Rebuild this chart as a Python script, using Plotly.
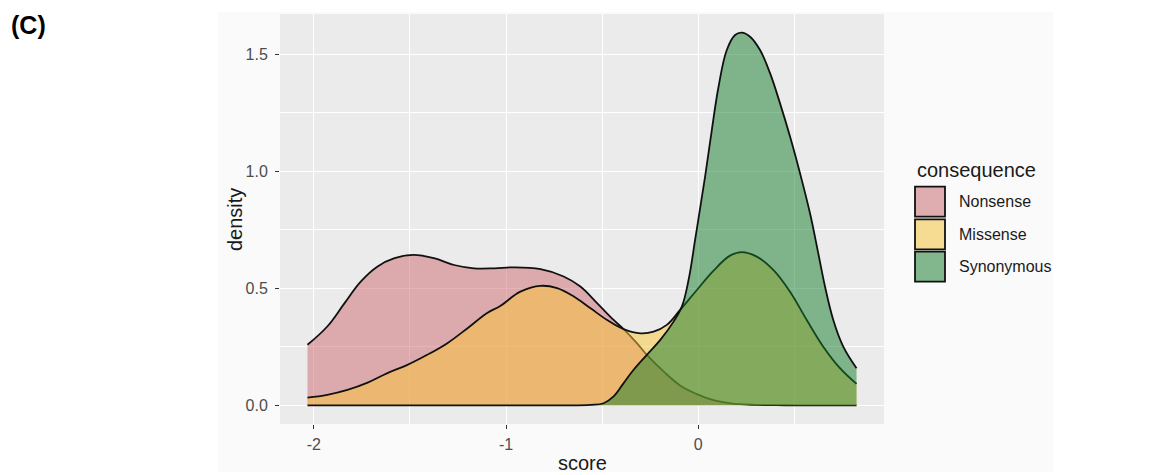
import plotly.graph_objects as go

# ---------------- data ----------------
categories = ["Nonsense", "Missense", "Synonymous"]

nonsense_x = [-2.033, -1.93, -1.84, -1.756, -1.67, -1.58, -1.48, -1.375, -1.27, -1.167,
              -1.06, -0.96, -0.82, -0.70, -0.613, -0.526, -0.44, -0.388, -0.319, -0.267,
              -0.18, -0.094, -0.007, 0.079, 0.17, 0.30, 0.45, 0.60, 0.824]
nonsense_y = [0.259, 0.337, 0.437, 0.529, 0.593, 0.629, 0.643, 0.629, 0.600, 0.586,
              0.586, 0.590, 0.582, 0.551, 0.508, 0.437, 0.365, 0.326, 0.266, 0.216,
              0.145, 0.085, 0.048, 0.022, 0.008, 0.002, 0.0005, 0.0, 0.0]

missense_x = [-2.033, -1.93, -1.825, -1.72, -1.617, -1.513, -1.41, -1.305, -1.20, -1.10,
              -1.03, -0.925, -0.82, -0.734, -0.647, -0.56, -0.474, -0.388, -0.30, -0.232,
              -0.163, -0.094, -0.01, 0.079, 0.166, 0.227, 0.305, 0.391, 0.478, 0.565,
              0.651, 0.738, 0.824]
missense_y = [0.033, 0.045, 0.066, 0.097, 0.138, 0.173, 0.216, 0.266, 0.330, 0.394,
              0.425, 0.486, 0.511, 0.501, 0.465, 0.415, 0.365, 0.326, 0.308, 0.315,
              0.344, 0.408, 0.49, 0.575, 0.640, 0.655, 0.636, 0.579, 0.486, 0.365,
              0.251, 0.159, 0.092]

synonymous_x = [-2.033, -1.5, -1.0, -0.7, -0.56, -0.492, -0.44, -0.388, -0.336, -0.267,
                -0.197, -0.128, -0.085, -0.05, -0.016, 0.002, 0.036, 0.071, 0.106, 0.149,
                0.192, 0.227, 0.270, 0.322, 0.374, 0.426, 0.478, 0.530, 0.582, 0.625,
                0.660, 0.703, 0.755, 0.824]
synonymous_y = [0.0, 0.0, 0.0, 0.0, 0.002, 0.009, 0.038, 0.095, 0.152, 0.216,
                0.280, 0.358, 0.422, 0.536, 0.707, 0.80, 0.978, 1.177, 1.362, 1.519,
                1.583, 1.593, 1.576, 1.519, 1.420, 1.291, 1.149, 0.992, 0.821, 0.650,
                0.508, 0.365, 0.251, 0.159]

x_tick_vals = [-2, -1, 0]
x_tick_text = ["-2", "-1", "0"]
y_tick_vals = [0.0, 0.5, 1.0, 1.5]
y_tick_text = ["0.0", "0.5", "1.0", "1.5"]

# ---------------- styling ----------------
fill_colors = ["rgba(205,105,111,0.5)", "rgba(251,197,53,0.5)", "rgba(19,123,41,0.5)"]
key_colors = ["#dfadb0", "#f6db93", "#82b68d"]
FONT = "Liberation Sans, Arial, Helvetica, sans-serif"

W, H = 1150, 475
PL, PR, PT, PB = 280, 884, 14, 424  # panel edges in pixels


def px(xp):
    return (xp - PL) / (PR - PL)


def py(yp):
    return (PB - yp) / (PB - PT)


fig = go.Figure()
series = [(nonsense_x, nonsense_y), (missense_x, missense_y), (synonymous_x, synonymous_y)]
for name, (xs, ys), fc in zip(categories, series, fill_colors):
    fig.add_trace(go.Scatter(
        x=xs, y=ys, name=name, mode="lines", fill="tozeroy", fillcolor=fc,
        line=dict(color="#111111", width=1.8, shape="spline", smoothing=1.1),
        showlegend=False, hoverinfo="x+y+name"))

shapes = [
    # light grey background of the embedded ggplot picture
    dict(type="rect", xref="paper", yref="paper", layer="below",
         x0=px(218), x1=px(1053), y0=py(472), y1=py(12),
         fillcolor="#fafafa", line=dict(width=0)),
    # panel background
    dict(type="rect", xref="paper", yref="paper", layer="below",
         x0=0, x1=1, y0=0, y1=1, fillcolor="#ebebeb", line=dict(width=0)),
]

annotations = [
    dict(text="<b>(C)</b>", x=px(28), y=py(25), xref="paper", yref="paper",
         showarrow=False, font=dict(family=FONT, size=25, color="#000000"),
         xanchor="center", yanchor="middle"),
    dict(text="score", x=px(582), y=py(463), xref="paper", yref="paper",
         showarrow=False, font=dict(family=FONT, size=20, color="#1a1a1a"),
         xanchor="center", yanchor="middle"),
    dict(text="density", x=px(235), y=py(220), xref="paper", yref="paper",
         showarrow=False, textangle=-90, font=dict(family=FONT, size=20, color="#1a1a1a"),
         xanchor="center", yanchor="middle"),
    dict(text="consequence", x=px(915), y=py(170), xref="paper", yref="paper",
         showarrow=False, font=dict(family=FONT, size=20, color="#1a1a1a"),
         xanchor="left", yanchor="middle"),
]

key_tops = [186.7, 219.3, 251.7]
for name, kc, top in zip(categories, key_colors, key_tops):
    shapes.append(dict(type="rect", xref="paper", yref="paper",
                       x0=px(915), x1=px(945), y0=py(top + 30), y1=py(top),
                       fillcolor=kc, line=dict(color="#111111", width=1.8)))
    annotations.append(dict(text=name, x=px(957), y=py(top + 15), xref="paper", yref="paper",
                            showarrow=False, font=dict(family=FONT, size=16, color="#1a1a1a"),
                            xanchor="left", yanchor="middle"))

fig.update_layout(
    width=W, height=H,
    margin=dict(l=PL, r=W - PR, t=PT, b=H - PB, pad=0),
    paper_bgcolor="#ffffff", plot_bgcolor="rgba(0,0,0,0)",
    shapes=shapes, annotations=annotations, showlegend=False,
    font=dict(family=FONT),
)
fig.update_xaxes(
    range=[-2.176, 0.967], tickvals=x_tick_vals, ticktext=x_tick_text,
    showgrid=True, gridcolor="#ffffff", gridwidth=1.2, zeroline=False,
    ticks="outside", ticklen=4, tickwidth=1.4, tickcolor="#333333",
    tickfont=dict(family=FONT, size=16, color="#4d4d4d"), ticklabelstandoff=2,
    minor=dict(dtick=0.5, tick0=0, showgrid=True, gridcolor="#ffffff", gridwidth=0.6, ticks=""),
    showline=False,
)
fig.update_yaxes(
    range=[-0.0797, 1.673], tickvals=y_tick_vals, ticktext=y_tick_text,
    showgrid=True, gridcolor="#ffffff", gridwidth=1.2, zeroline=False,
    ticks="outside", ticklen=4, tickwidth=1.4, tickcolor="#333333",
    tickfont=dict(family=FONT, size=16, color="#4d4d4d"), ticklabelstandoff=4,
    minor=dict(dtick=0.25, tick0=0, showgrid=True, gridcolor="#ffffff", gridwidth=0.6, ticks=""),
    showline=False,
)

fig.write_html("out.html")
